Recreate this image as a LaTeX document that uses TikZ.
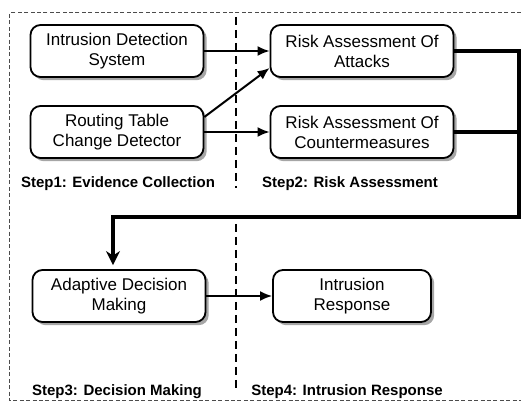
\documentclass[tikz,border=0pt]{standalone}
\usepackage{fontspec}
\setmainfont{Liberation Sans}
\usetikzlibrary{arrows.meta, shadows}

\begin{document}
\begin{tikzpicture}[x=0.5pt, y=-0.5pt, auto,
  process/.style={rectangle, rounded corners=5pt, draw=black, line width=0.9pt, fill=white,
    drop shadow={shadow xshift=1.6pt, shadow yshift=-1.6pt, fill=black!35, opacity=1},
    align=center, font=\fontsize{8.5}{10}\selectfont, minimum width=86.5pt, minimum height=26pt, inner sep=1pt},
  steplabel/.style={font=\fontsize{7.5}{9}\selectfont\bfseries, inner sep=0pt},
  arrow/.style={line width=1pt, -{Latex[length=6pt, width=5pt]}},
  bus/.style={line width=1.7pt},
  busarrow/.style={line width=1.7pt, -{Stealth[length=7pt, width=7pt]}, shorten >=2pt},
  frame/.style={draw=black!70, line width=0.5pt, dash pattern=on 2pt off 1.2pt},
  divider/.style={line width=0.8pt, dash pattern=on 4pt off 2.5pt}
]
\useasboundingbox (0,0) rectangle (521,406);

% step 1 and step 2
\node (ids) [process] at (117,51) {Intrusion Detection\\System};
\node (rtcd) [process, below of=ids, node distance=40.5pt] {Routing Table\\Change Detector};
\node (rao) [process, right of=ids, node distance=122.5pt, minimum width=91.5pt] {Risk Assessment Of\\Attacks};
\node (rac) [process, right of=rtcd, node distance=122.5pt, minimum width=91.5pt] {Risk Assessment Of\\Countermeasures};

% step 3 and step 4
\node (adm) [process] at (119,296) {Adaptive Decision\\Making};
\node (ir) [process, right of=adm, node distance=116.5pt, minimum width=79pt] {Intrusion\\Response};

\node (step1) [steplabel] at (118,184) {Step1: Evidence Collection};
\node (step2) [steplabel] at (350,184) {Step2: Risk Assessment};
\node (step3) [steplabel] at (117,392) {Step3: Decision Making};
\node (step4) [steplabel] at (347,392) {Step4: Intrusion Response};

% frame and dividers
\draw [frame] (521,13) -| (10,401) -- (521,401);
\draw [divider] (236,17) -- (236,188);
\draw [divider] (236,224) -- (236,392);

\coordinate (rail) at (519,217);

\draw [arrow] (ids) -- (rao);
\draw [arrow] ([yshift=7.5pt]rtcd.east) -- ([yshift=-8.5pt]rao.west);
\draw [arrow] (rtcd) -- (rac);
\draw [arrow] (adm) -- (ir);

\draw [bus] (rac) -- (rac -| rail);
\draw [busarrow] (rao) -| (rail) -| ([xshift=-3pt]adm.north);

\end{tikzpicture}
\end{document}
